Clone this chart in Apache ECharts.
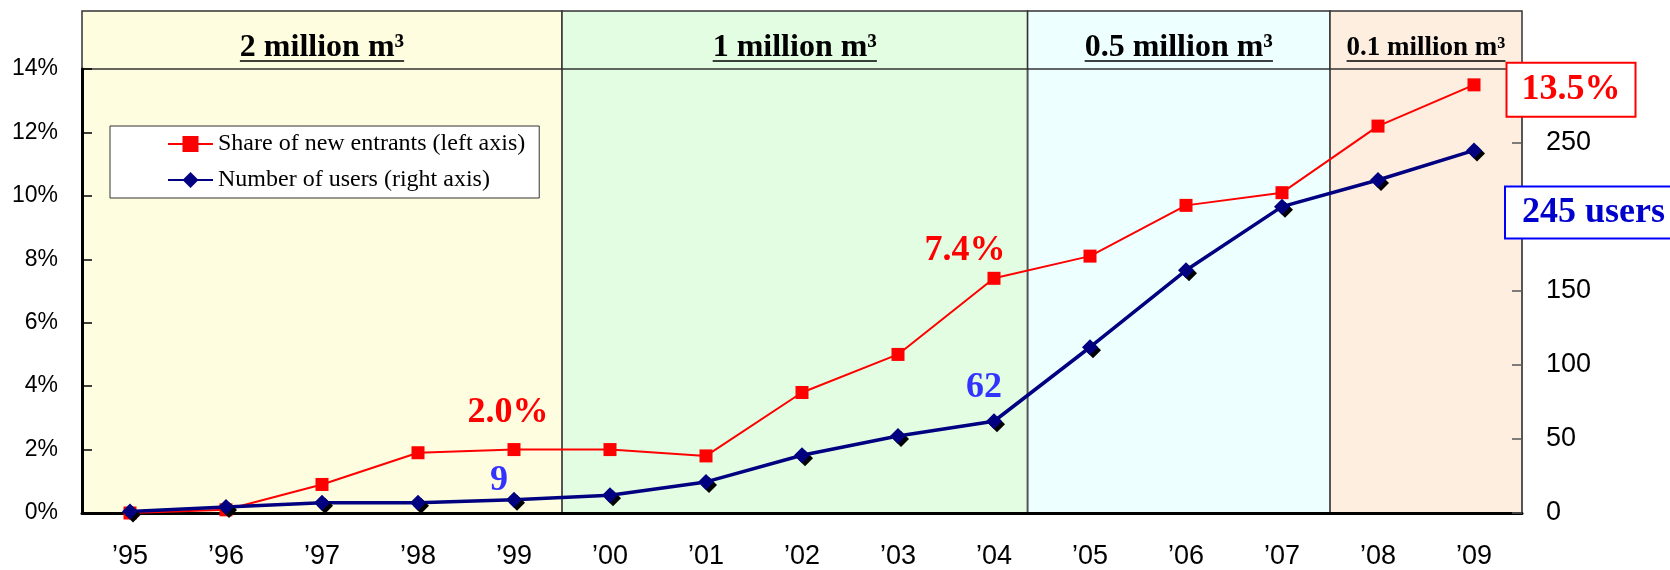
<!DOCTYPE html>
<html>
<head>
<meta charset="utf-8">
<title>Share of new entrants and number of users</title>
<script src="https://cdn.jsdelivr.net/npm/echarts@6/dist/echarts.min.js"></script>
<style>
    html, body {margin: 0; padding: 0; background: #fff;}
    #main {width: 1670px; height: 570px;}
</style>
</head>
<body>
<div id="main"></div>
<script>
// data
var years = ['’95', '’96', '’97', '’98', '’99', '’00', '’01', '’02', '’03', '’04', '’05', '’06', '’07', '’08', '’09'];
var shareData = [0, 0.1, 0.9, 1.9, 2.0, 2.0, 1.8, 3.8, 5.0, 7.4, 8.1, 9.7, 10.1, 12.2, 13.5];
var userData = [1, 4, 7, 7, 9, 12, 21, 39, 52, 62, 112, 164, 207, 225, 245];
var sectionBounds = [-0.5, 4.5, 9.35, 12.5, 14.5];
var sectionNames = ['2 million m³', '1 million m³', '0.5 million m³', '0.1 million m³'];
var noteIndex = [4, 9, 14];

var bandColors = ['#fffde0', '#e3fde3', '#eeffff', '#fdeee0'];
var serif = '"Liberation Serif", "Times New Roman", serif';
var sans = '"Liberation Sans", Arial, sans-serif';

var sections = [];
for (var s = 0; s < sectionNames.length; s++) {
    sections.push([sectionBounds[s], sectionBounds[s + 1]]);
}

// text width, for the underline under the header text
var measureCtx = document.createElement('canvas').getContext('2d');
function textWidth(text, size) {
    measureCtx.font = 'bold ' + size + 'px ' + serif;
    return measureCtx.measureText(text).width;
}

function renderBand(params, api) {
    var i = params.dataIndex;
    var p0 = api.coord([api.value(0), 14]);
    var p1 = api.coord([api.value(1), 0]);
    var children = [{
        type: 'rect',
        shape: {x: p0[0], y: p0[1], width: p1[0] - p0[0], height: p1[1] - p0[1]},
        style: {fill: bandColors[i]}
    }];
    if (i > 0) {
        children.push({
            type: 'line',
            shape: {x1: p0[0], y1: p0[1], x2: p0[0], y2: p1[1]},
            style: {stroke: '#555', lineWidth: 2}
        });
    }
    return {type: 'group', children: children};
}

function renderHeader(params, api) {
    var i = params.dataIndex;
    var p0 = api.coord([api.value(0), 1]);
    var p1 = api.coord([api.value(1), 0]);
    var w = p1[0] - p0[0], h = p1[1] - p0[1];
    var size = w < 220 ? 27 : 32;
    var cx = p0[0] + w / 2;
    var tw = textWidth(sectionNames[i], size);
    var lineY = p0[1] + h * 0.86;
    return {
        type: 'group',
        children: [
            {
                type: 'rect',
                shape: {x: p0[0], y: p0[1], width: w, height: h},
                style: {fill: bandColors[i], stroke: '#333', lineWidth: 1.5}
            },
            {
                type: 'text',
                style: {
                    text: sectionNames[i], x: cx, y: p0[1] + h * 0.64,
                    align: 'center', verticalAlign: 'middle',
                    fontFamily: serif, fontWeight: 'bold', fontSize: size, fill: '#000'
                }
            },
            {
                type: 'line',
                shape: {x1: cx - tw / 2, y1: lineY, x2: cx + tw / 2, y2: lineY},
                style: {stroke: '#000', lineWidth: 1.5}
            }
        ]
    };
}

var noteBase = {
    show: true,
    position: 'inside',
    fontFamily: serif,
    fontWeight: 'bold',
    fontSize: 36,
    textBorderWidth: 0
};

var shareNotes = {
    4: {offset: [-6, -37]},
    9: {offset: [-29, -28]},
    14: {offset: [97, 5], backgroundColor: '#fff', borderColor: '#ff0000', borderWidth: 2, padding: [9, 14, 7, 14]}
};
var userNotes = {
    4: {offset: [-15, -19], color: '#3333ff'},
    9: {offset: [-10, -34], color: '#3333ff'},
    14: {offset: [32, 62], align: 'left', color: '#0000cc', backgroundColor: '#fff', borderColor: '#0000ff', borderWidth: 2, padding: [8, 20, 6, 16]}
};

function withNotes(values, notes, color, fmt) {
    return values.map(function (v, i) {
        if (noteIndex.indexOf(i) < 0) return v;
        var label = Object.assign({}, noteBase, {color: color, formatter: fmt}, notes[i]);
        return {value: v, label: label};
    });
}

var myChart = echarts.init(document.getElementById('main'));

var option = {
    animation: false,
    backgroundColor: '#fff',
    legend: {
        left: 110,
        top: 126,
        orient: 'vertical',
        backgroundColor: '#fff',
        borderColor: '#333',
        borderWidth: 1,
        padding: [5, 14, 5, 57],
        itemGap: 10,
        itemWidth: 45,
        itemHeight: 20,
        textStyle: {fontFamily: serif, fontSize: 24, color: '#000', lineHeight: 26},
        data: ['Share of new entrants (left axis)', 'Number of users (right axis)']
    },
    grid: [
        {left: 82, right: 148, top: 69, bottom: 57},
        {left: 82, right: 148, top: 11, height: 58}
    ],
    xAxis: [
        {
            type: 'category',
            gridIndex: 0,
            data: years,
            z: 5,
            axisLine: {lineStyle: {color: '#000', width: 3}},
            axisTick: {inside: true, length: 9, lineStyle: {color: '#000', width: 1.5}},
            axisLabel: {margin: 30, fontFamily: sans, fontSize: 27, color: '#000'}
        },
        {type: 'value', gridIndex: 0, min: -0.5, max: 14.5, show: false},
        {type: 'value', gridIndex: 1, min: -0.5, max: 14.5, show: false}
    ],
    yAxis: [
        {
            type: 'value',
            gridIndex: 0,
            min: 0,
            max: 14,
            interval: 2,
            z: 5,
            splitLine: {show: false},
            axisLine: {show: true, onZero: false, lineStyle: {color: '#000', width: 3}},
            axisTick: {show: true, inside: true, length: 10, lineStyle: {color: '#000', width: 1.5}},
            axisLabel: {formatter: '{value}%', margin: 24, padding: [10, 0, 0, 0], fontFamily: sans, fontSize: 23, color: '#000'}
        },
        {
            type: 'value',
            gridIndex: 0,
            position: 'right',
            min: 0,
            max: 300,
            interval: 50,
            z: 5,
            splitLine: {show: false},
            axisLine: {show: true, onZero: false, lineStyle: {color: '#555', width: 2}},
            axisTick: {show: true, inside: true, length: 10, lineStyle: {color: '#555', width: 1.5}},
            axisLabel: {showMaxLabel: false, margin: 24, padding: [8, 0, 0, 0], fontFamily: sans, fontSize: 27, color: '#000'}
        },
        {type: 'value', gridIndex: 1, min: 0, max: 1, show: false}
    ],
    series: [
        {
            name: 'bands',
            type: 'custom',
            xAxisIndex: 1,
            yAxisIndex: 0,
            z: 0,
            silent: true,
            renderItem: renderBand,
            data: sections
        },
        {
            name: 'headers',
            type: 'custom',
            xAxisIndex: 2,
            yAxisIndex: 2,
            silent: true,
            renderItem: renderHeader,
            data: sections
        },
        {
            name: 'Share of new entrants (left axis)',
            type: 'line',
            xAxisIndex: 0,
            yAxisIndex: 0,
            z: 10,
            symbol: 'rect',
            symbolSize: 13,
            itemStyle: {color: '#ff0000'},
            lineStyle: {color: '#ff0000', width: 2},
            data: withNotes(shareData, shareNotes, '#ff0000', function (p) {
                return p.value.toFixed(1) + '%';
            })
        },
        {
            name: 'Number of users (right axis)',
            type: 'line',
            xAxisIndex: 0,
            yAxisIndex: 1,
            z: 11,
            symbol: 'diamond',
            symbolSize: 16,
            itemStyle: {color: '#000080', shadowColor: '#000', shadowBlur: 0, shadowOffsetX: 3, shadowOffsetY: 3},
            lineStyle: {color: '#000080', width: 3.5},
            data: withNotes(userData, userNotes, '#3333ff', function (p) {
                return p.dataIndex === 14 ? p.value + ' users' : String(p.value);
            })
        }
    ]
};

myChart.setOption(option);
</script>
</body>
</html>
